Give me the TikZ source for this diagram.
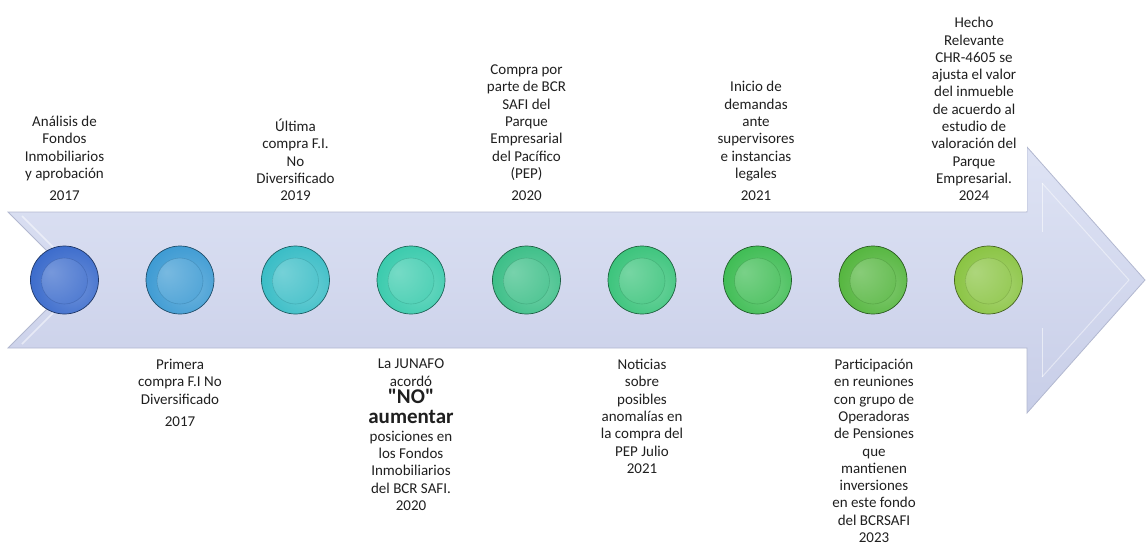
\documentclass[tikz,border=0pt]{standalone}
\usepackage{fontspec}
\setmainfont{Carlito}[Ligatures=TeXOff]
\definecolor{b1}{HTML}{3C6CCC}
\definecolor{b2}{HTML}{3E9BD3}
\definecolor{b3}{HTML}{3ABDC6}
\definecolor{b4}{HTML}{3BCBAD}
\definecolor{b5}{HTML}{3DBF88}
\definecolor{b6}{HTML}{3CC47C}
\definecolor{b7}{HTML}{40BD55}
\definecolor{b8}{HTML}{55B63F}
\definecolor{b9}{HTML}{8AC443}
\definecolor{arrowtop}{HTML}{DEE3F4}
\definecolor{arrowbot}{HTML}{C8CEE8}
\definecolor{arrowedge}{HTML}{B2B8D0}
\colorlet{beadc}{b1}
\pgfdeclareradialshading[beadc]{beadouter}{\pgfpoint{8bp}{-6bp}}{color(0bp)=(beadc!75!white); color(30bp)=(beadc); color(52bp)=(beadc!85!black); color(60bp)=(beadc!65!black)}
\pgfdeclareradialshading[beadc]{beadinner}{\pgfpoint{-10bp}{6bp}}{color(0bp)=(beadc!70!white); color(32bp)=(beadc!95!white); color(55bp)=(beadc!90!black)}
\begin{document}
\begin{tikzpicture}[x=1pt,y=-1pt,
  lbl/.style={align=center,inner sep=0pt,font=\fontsize{15}{17.3}\selectfont,text=black!88},
  toplbl/.style={lbl,anchor=south},
  botlbl/.style={lbl,anchor=north},
  bead/.style={circle,minimum size=68pt,inner sep=0pt,
    /utils/exec={\colorlet{beadc}{#1}},shading=beadouter,
    draw=#1!50!black,line width=0.7pt,
    path picture={
      \shade[shading=beadinner] ([yshift=-1pt]path picture bounding box.center) circle (23);
      \draw[#1!70!black,opacity=.35,line width=.6pt] ([yshift=-1pt]path picture bounding box.center) circle (23);
    }}]
\useasboundingbox (0,0) rectangle (1148,546);
% arrow
\shade[top color=arrowtop,bottom color=arrowbot,draw=arrowedge,line width=0.8pt]
  (8,212) -- (1027,212) -- (1027,147) -- (1145,280) -- (1027,413) -- (1027,348)
  -- (8,348) -- (76,280) -- cycle;
% bevel highlights
\draw[white,opacity=.55,line width=1pt] (1042,183) -- (1042,232);
\draw[white,opacity=.55,line width=1pt] (1042,328) -- (1042,377);
\draw[white,opacity=.45,line width=1pt] (1042,183) -- (1129,280) -- (1042,377);
\draw[white,opacity=.5,line width=1.5pt] (22,216) -- (82,276);
\draw[white,opacity=.5,line width=1.5pt] (22,344) -- (82,284);
% white text box over arrowhead
\fill[white] (920,0) rectangle (1026.6,211.4);
% beads
\node[bead=b1] (c1) at (64.5,280) {};
\node[bead=b2] (c2) at (180,280) {};
\node[bead=b3] (c3) at (295.5,280) {};
\node[bead=b4] (c4) at (411,280) {};
\node[bead=b5] (c5) at (526.5,280) {};
\node[bead=b6] (c6) at (642,280) {};
\node[bead=b7] (c7) at (757.5,280) {};
\node[bead=b8] (c8) at (873,280) {};
\node[bead=b9] (c9) at (988.5,280) {};
% labels above
\node[toplbl] (l1) at (64.5,201) {Análisis de\\Fondos\\Inmobiliarios\\y aprobación\\[5pt]2017};
\node[toplbl] (l3) at (295.5,201) {Última\\compra F.I.\\No\\Diversificado\\2019};
\node[toplbl] (l5) at (526.5,201) {Compra por\\parte de BCR\\SAFI del\\Parque\\Empresarial\\del Pacífico\\(PEP)\\[5pt]2020};
\node[toplbl] (l7) at (756,201) {Inicio de\\demandas\\ante\\supervisores\\e instancias\\legales\\[5pt]2021};
\node[toplbl] (l9) at (974,201) {Hecho\\Relevante\\CHR-4605 se\\ajusta el valor\\del inmueble\\de acuerdo al\\estudio de\\valoración del\\Parque\\Empresarial.\\2024};
% labels below
\node[botlbl] (l2) at (180,359) {Primera\\compra F.I No\\Diversificado\\[5pt]2017};
\node[botlbl] (l4) at (411,359) {La JUNAFO\\acordó\\{\fontsize{21}{22}\selectfont\bfseries "NO"}\\[3pt]{\fontsize{21}{22}\selectfont\bfseries aumentar}\\posiciones en\\los Fondos\\Inmobiliarios\\del BCR SAFI.\\2020};
\node[botlbl] (l6) at (642,359) {Noticias\\sobre\\posibles\\anomalías en\\la compra del\\PEP Julio\\2021};
\node[botlbl] (l8) at (874,359) {Participación\\en reuniones\\con grupo de\\Operadoras\\de Pensiones\\que\\mantienen\\inversiones\\en este fondo\\del BCRSAFI\\2023};
\end{tikzpicture}
\end{document}
